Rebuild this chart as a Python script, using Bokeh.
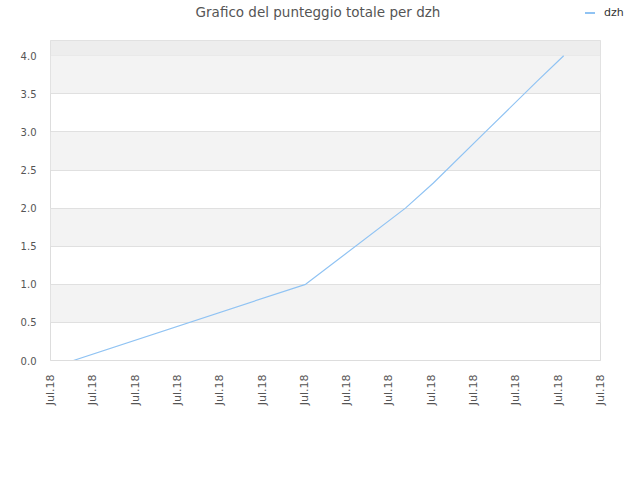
from bokeh.plotting import figure
from bokeh.layouts import column
from bokeh.models import (Range1d, FixedTicker, NumeralTickFormatter, BoxAnnotation, Div)
from bokeh.embed import file_html
from bokeh.resources import INLINE
import math

title_text = "Grafico del punteggio totale per dzh"
series_name = "dzh"
x_ticks = list(range(14))
x_tick_labels = ["Jul.18"] * 14
xs = [0.54, 6.03, 8.39, 9.05, 10.28, 11.51, 12.13]
ys = [0.0, 1.0, 2.0, 2.33, 3.0, 3.67, 4.0]
y_ticks = [0, 0.5, 1.0, 1.5, 2.0, 2.5, 3.0, 3.5, 4.0]

FONT = "DejaVu Sans"
LINE_COLOR = "#90c3f3"
W = 632

# ---- header: title + legend (HTML text) ----
header_html = (
    f'<div style="position:relative;width:{W}px;height:40px;font-family:\'{FONT}\';">'
    f'<div style="position:absolute;left:0;top:3px;width:636px;text-align:center;'
    f'font-size:13.5px;color:#555555;white-space:nowrap;">{title_text}</div>'
    f'<div style="position:absolute;left:585px;top:12px;width:10px;height:2px;'
    f'background:{LINE_COLOR};"></div>'
    f'<div style="position:absolute;left:604px;top:5px;font-size:11px;color:#333333;'
    f'white-space:nowrap;">{series_name}</div>'
    '</div>'
)
head = Div(text=header_html, width=W, height=40, margin=0)

# ---- main chart ----
p = figure(width=W, height=424, output_backend="svg", toolbar_location=None,
           x_range=Range1d(0, 13), y_range=Range1d(0, 4.2), margin=0,
           min_border_left=50, min_border_right=32, min_border_top=0,
           min_border_bottom=104)

p.outline_line_color = "#dddddd"
p.background_fill_color = "#ffffff"

p.add_layout(BoxAnnotation(bottom=4.0, top=4.2, fill_color="#ededed", fill_alpha=1.0,
                           line_color=None, level="underlay"))

p.xgrid.visible = False
p.ygrid.ticker = FixedTicker(ticks=y_ticks)
p.ygrid.grid_line_color = "#e0e0e0"
p.ygrid.band_fill_color = "#f3f3f3"
p.ygrid.band_fill_alpha = 1.0

p.xaxis.ticker = FixedTicker(ticks=x_ticks)
p.xaxis.major_label_overrides = {t: l for t, l in zip(x_ticks, x_tick_labels)}
p.xaxis.major_label_orientation = math.pi / 2
p.xaxis.axis_line_color = "#dddddd"
p.xaxis.major_tick_line_color = None
p.xaxis.minor_tick_line_color = None
p.xaxis.major_label_text_font = FONT
p.xaxis.major_label_text_font_size = "11px"
p.xaxis.major_label_text_color = "#555555"
p.xaxis.major_label_standoff = 8

p.yaxis.ticker = FixedTicker(ticks=y_ticks)
p.yaxis.formatter = NumeralTickFormatter(format="0.0")
p.yaxis.axis_line_color = None
p.yaxis.major_tick_line_color = None
p.yaxis.minor_tick_line_color = None
p.yaxis.major_label_text_font = FONT
p.yaxis.major_label_text_font_size = "10px"
p.yaxis.major_label_text_color = "#555555"
p.yaxis.major_label_standoff = 8

p.line(xs, ys, line_color=LINE_COLOR, line_width=1.2)

layout = column(head, p, spacing=0, margin=0)
open("out.html", "w").write(file_html(layout, INLINE))
